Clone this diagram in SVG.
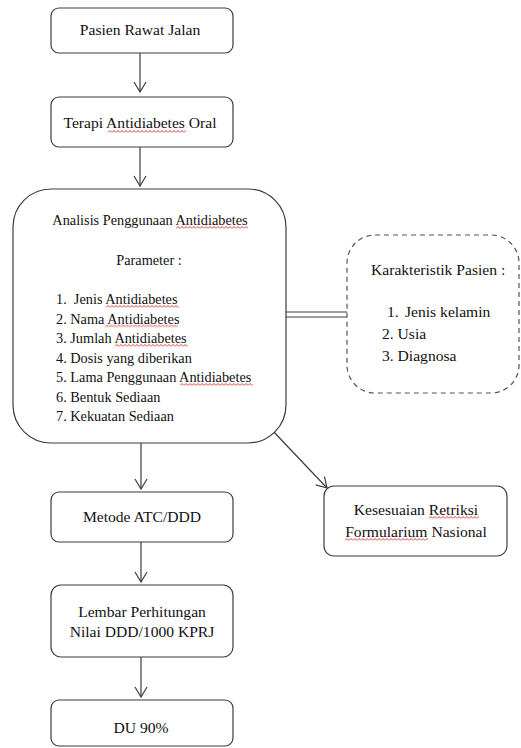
<svg xmlns="http://www.w3.org/2000/svg" width="521" height="748" viewBox="0 0 521 748">
<style>
.box{fill:#fff;stroke:#3c3c3c;stroke-width:1.2}
.dash{fill:#fff;stroke:#555;stroke-width:1.2;stroke-dasharray:5 4}
.t{font-family:"Liberation Serif","Times New Roman",serif;font-size:15.6px;fill:#111}
.b{font-family:"Liberation Serif","Times New Roman",serif;font-size:14.3px;fill:#111;white-space:pre}
.c{text-anchor:middle}
.ln{stroke:#3c3c3c;stroke-width:1.2;fill:none}
.sq{fill:url(#sqp)}
</style>
<defs>
<marker id="ah" viewBox="0 -7 12 14" refX="11" refY="0" markerWidth="12" markerHeight="14" markerUnits="userSpaceOnUse" orient="auto">
<path d="M1,-6 L11,0 L1,6" fill="none" stroke="#3c3c3c" stroke-width="1.2"/>
</marker>
<pattern id="sqp" patternUnits="userSpaceOnUse" x="0" y="0" width="4" height="3">
<path d="M0 2.5 L2 0.5 L4 2.5" fill="none" stroke="#e02020" stroke-width="0.9"/>
</pattern>
</defs>

<g id="connectors">
<line class="ln" x1="140" y1="53" x2="140" y2="92" marker-end="url(#ah)"/>
<line class="ln" x1="140" y1="147" x2="140" y2="186" marker-end="url(#ah)"/>
<line class="ln" x1="141" y1="443" x2="141" y2="489" marker-end="url(#ah)"/>
<line class="ln" x1="141" y1="542" x2="141" y2="582" marker-end="url(#ah)"/>
<line class="ln" x1="141" y1="657" x2="141" y2="697" marker-end="url(#ah)"/>
<line class="ln" x1="272" y1="430" x2="327" y2="488" marker-end="url(#ah)"/>
<line class="ln" x1="285" y1="312" x2="347" y2="312"/>
<line class="ln" x1="285" y1="317" x2="347" y2="317"/>
</g>

<g id="pasien-rawat-jalan">
<rect class="box" x="51" y="8" width="182" height="45" rx="8"/>
<text class="t c" x="140" y="35">Pasien Rawat Jalan</text>
</g>

<g id="terapi">
<rect class="box" x="51" y="97" width="182" height="50" rx="8"/>
<text class="t c" x="140" y="128">Terapi Antidiabetes Oral</text>
<g transform="translate(108,130)"><rect class="sq" width="78" height="3"/></g>
</g>

<g id="analisis">
<rect class="box" x="13" y="189" width="273" height="254" rx="38"/>
<text class="b c" x="150" y="225">Analisis Penggunaan Antidiabetes</text>
<g transform="translate(176,226)"><rect class="sq" width="72" height="3"/></g>
<text class="b c" x="149" y="265">Parameter :</text>
<text class="b" x="56" y="304">1.  Jenis Antidiabetes</text>
<g transform="translate(106,305)"><rect class="sq" width="73" height="3"/></g>
<text class="b" x="56" y="323.5">2. Nama Antidiabetes</text>
<g transform="translate(105,324.5)"><rect class="sq" width="73" height="3"/></g>
<text class="b" x="56" y="343">3. Jumlah Antidiabetes</text>
<g transform="translate(115,344)"><rect class="sq" width="73" height="3"/></g>
<text class="b" x="56" y="362.5">4. Dosis yang diberikan</text>
<text class="b" x="56" y="382">5. Lama Penggunaan Antidiabetes</text>
<g transform="translate(180,383)"><rect class="sq" width="73" height="3"/></g>
<text class="b" x="56" y="401.5">6. Bentuk Sediaan</text>
<text class="b" x="56" y="421">7. Kekuatan Sediaan</text>
</g>

<g id="karakteristik">
<rect class="dash" x="347" y="235" width="172" height="158" rx="28"/>
<text class="t" x="371" y="275">Karakteristik Pasien :</text>
<text class="t" x="387" y="317">1.</text>
<text class="t" x="405" y="317">Jenis kelamin</text>
<text class="t" x="382" y="339">2. Usia</text>
<text class="t" x="382" y="361">3. Diagnosa</text>
</g>

<g id="metode">
<rect class="box" x="51" y="492" width="182" height="50" rx="8"/>
<text class="t c" x="142" y="522">Metode ATC/DDD</text>
</g>

<g id="kesesuaian">
<rect class="box" x="324" y="486" width="183" height="70" rx="10"/>
<text class="t c" x="416" y="515">Kesesuaian Retriksi</text>
<g transform="translate(429,516)"><rect class="sq" width="50" height="3"/></g>
<text class="t c" x="416" y="537">Formularium Nasional</text>
<g transform="translate(345,538)"><rect class="sq" width="83" height="3"/></g>
</g>

<g id="lembar">
<rect class="box" x="51" y="585" width="182" height="72" rx="10"/>
<text class="t c" x="142" y="617">Lembar Perhitungan</text>
<text class="t c" x="142" y="637">Nilai DDD/1000 KPRJ</text>
</g>

<g id="du90">
<rect class="box" x="51" y="700" width="182" height="46" rx="8"/>
<text class="t c" x="141" y="733">DU 90%</text>
</g>
</svg>
